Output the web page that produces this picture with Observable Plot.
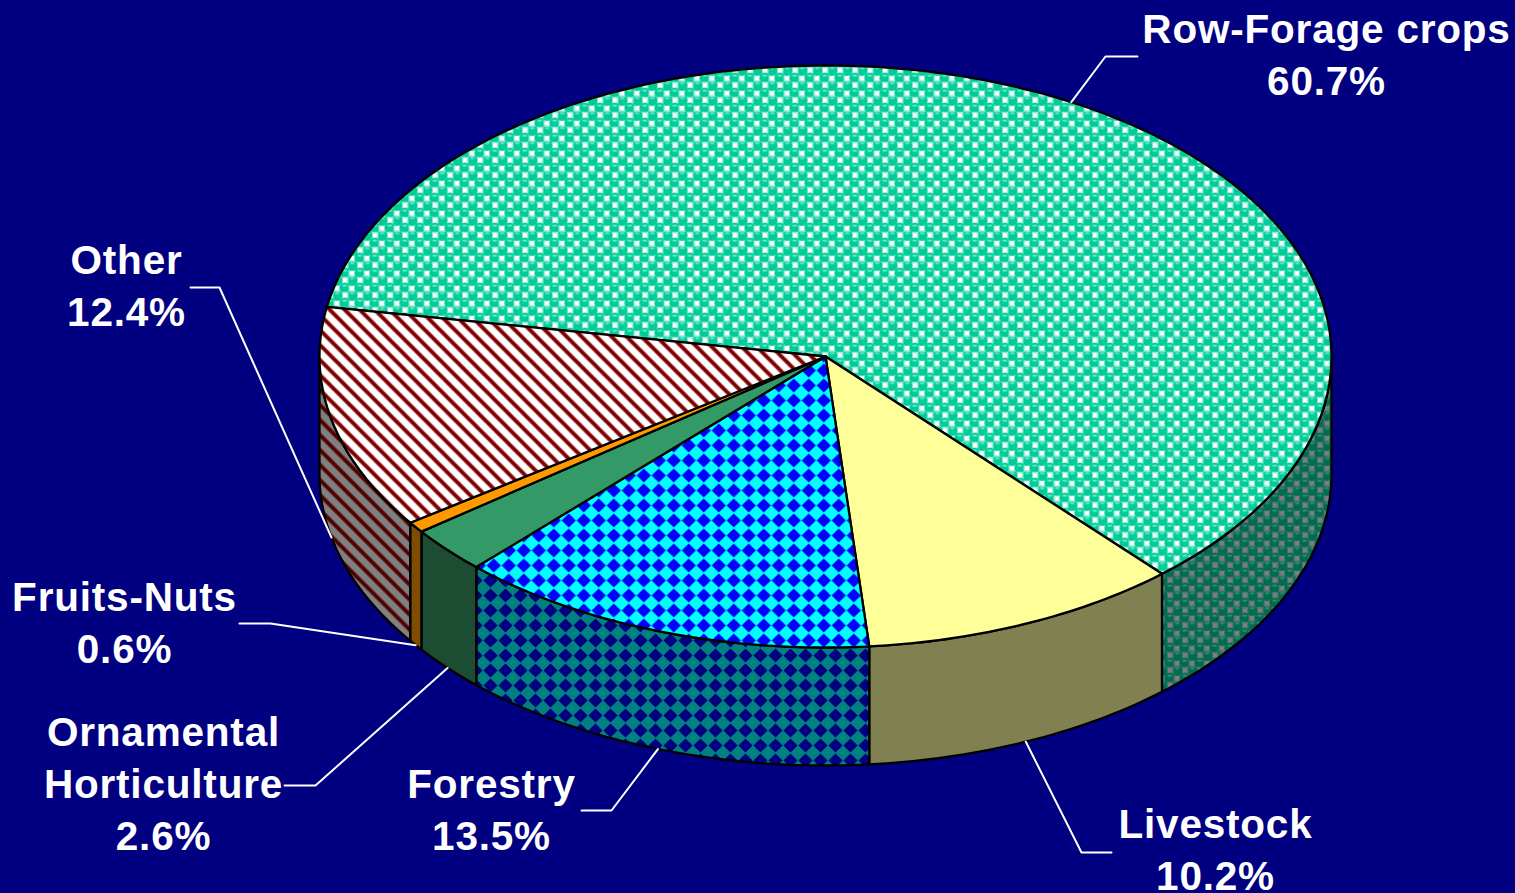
<!DOCTYPE html>
<html>
<head>
<meta charset="utf-8">
<script src="https://cdn.jsdelivr.net/npm/d3@7"></script>
<script src="https://cdn.jsdelivr.net/npm/@observablehq/plot@0.6"></script>
<style>
html,body{margin:0;padding:0;background:#000080;overflow:hidden}
svg{display:block}
svg text{letter-spacing:0.8px}
</style>
</head>
<body>
<div id="chart"></div>
<script>
// Data
const categories = ["Row-Forage crops","Livestock","Forestry","Ornamental\nHorticulture","Fruits-Nuts","Other"];
const shares = [60.7,10.2,13.5,2.6,0.6,12.4];
const labels = ["60.7%","10.2%","13.5%","2.6%","0.6%","12.4%"];
const topFills = ["url(#rowTop)","#FFFF99","url(#forTop)","#339966","#FF9900","url(#othTop)"];
const sideFills = ["url(#rowSide)","#808050","url(#forSide)","#1C4D33","#804D00","url(#othSide)"];

// Callout layout: label centre, knee of the leader, outer end of the leader
const labelX = [1326,1215,491,163,124,126];
const labelY = [52,847,807,781,620,283];
const kneeX  = [1105,1081,611,315,270,219];
const kneeY  = [56,852,810,785,623,287];
const tailX  = [1137,1111,581,284,239,190];

// Pie projection
const CX=825, CY=356, RX=506, RY=291, DEPTH=118, FIRST=189.8;

const rad=d=>d*Math.PI/180;
const rim=(t,drop=0)=>({x:CX+RX*Math.cos(rad(t)),y:CY+RY*Math.sin(rad(t))+drop});
const arc=(a,b,drop=0)=>{
  const pts=[], n=Math.max(2,Math.ceil(Math.abs(b-a)));
  for(let i=0;i<=n;i++) pts.push(rim(a+(b-a)*i/n,drop));
  return pts;
};

let cum=FIRST;
const slices=shares.map((s,i)=>{const a=cum;cum+=s*3.6;return {i,a,b:cum,mid:(a+cum)/2};});

// Front walls: only the part of each slice lying on the near half of the rim
const walls=[];
for(const s of slices){
  for(const [lo,hi] of [[0,180],[360,540]]){
    const a=Math.max(s.a,lo), b=Math.min(s.b,hi);
    if(b>a){
      const top=arc(a,b), bottom=arc(b,a,DEPTH);
      walls.push({fill:sideFills[s.i],pts:[...top,...bottom,top[0]]});
    }
  }
}
const tops=slices.map(s=>{
  const c={x:CX,y:CY};
  return {fill:topFills[s.i],pts:[c,...arc(s.a,s.b),c]};
});

// Leader lines run from each slice's mid-rim to the knee and the tail
const leaders=slices.map(s=>{
  const near=Math.sin(rad(s.mid))>0;
  return [rim(s.mid,near?DEPTH:0),{x:kneeX[s.i],y:kneeY[s.i]},{x:tailX[s.i],y:kneeY[s.i]}];
});

const textRows=slices.map(s=>({
  x:labelX[s.i],y:labelY[s.i],
  text:categories[s.i]+"\n"+labels[s.i]
}));

// Pattern fills
const tile=(id,body,tx=0,ty=0)=>`<pattern id="${id}" patternUnits="userSpaceOnUse" width="15" height="15" patternTransform="translate(${tx} ${ty})">${body}</pattern>`;
const balls=(bg,ball,hi,sq)=>{
  const one=(x,y)=>`<circle cx="${x}" cy="${y}" r="5.4" fill="${ball}"/><ellipse cx="${x}" cy="${y-2.4}" rx="2.5" ry="1.2" fill="${hi}"/>`;
  return `<rect width="15" height="15" fill="${bg}"/>`+
   `<rect x="0" y="0" width="15" height="15" fill="${ball}" opacity="0.45"/>`+
   `<rect x="9" y="1.5" width="4.5" height="4.5" fill="${sq}"/><rect x="1.5" y="9" width="4.5" height="4.5" fill="${sq}"/>`+
   one(3.75,3.75)+one(11.25,11.25);
};
// Solid-diamond hatch: one diamond per tile on a square lattice
const diamonds=(bg,d)=>`<rect width="15" height="15" fill="${bg}"/>`+
  `<path d="M7.5 0.4L14.6 7.5L7.5 14.6L0.4 7.5Z" fill="${d}"/>`;
const stripes=(bg,c)=>`<rect width="15" height="15" fill="${bg}"/>`+
  `<path d="M-15 -15L30 30M-30 -15L15 30M0 -15L45 30" stroke="${c}" stroke-width="4"/>`;
const defs=`<defs>`+
  tile("rowTop",balls("#FFFFFF","#00CC99","#66E6C8","#FFFFFF"),3,6.25)+
  tile("rowSide",balls("#808080","#006B50","#338B75","#808080"),3,6.25)+
  tile("forTop",diamonds("#00FFFF","#0000FF"),5.8,2.5)+
  tile("forSide",diamonds("#008080","#000080"),2.5,2.5)+
  tile("othTop",stripes("#FFFFFF","#800000"),5,0)+
  tile("othSide",stripes("#808080","#500000"),5,0)+
`</defs>`;
const defsMark=()=>{
  const g=document.createElementNS("http://www.w3.org/2000/svg","g");
  g.innerHTML=defs;
  return g;
};

const face=f=>Plot.line(f.pts,{x:"x",y:"y",fill:f.fill,stroke:"#000000",strokeWidth:2.3,strokeLinejoin:"round"});

const chart=Plot.plot({
  width:1515,height:893,
  margin:0,
  style:{background:"#000080"},
  x:{domain:[0,1515],range:[0,1515],axis:null},
  y:{domain:[0,893],range:[0,893],axis:null},
  marks:[
    defsMark,
    ...walls.map(face),
    ...tops.map(face),
    ...leaders.map(l=>Plot.line(l,{x:"x",y:"y",stroke:"#FFFFFF",strokeWidth:2})),
    Plot.text(textRows,{x:"x",y:"y",text:"text",fill:"#FFFFFF",fontFamily:"Liberation Sans",fontWeight:"bold",fontSize:40.5,lineHeight:1.28,textAnchor:"middle",lineAnchor:"middle"})
  ]
});
document.getElementById("chart").append(chart);
</script>
</body>
</html>
